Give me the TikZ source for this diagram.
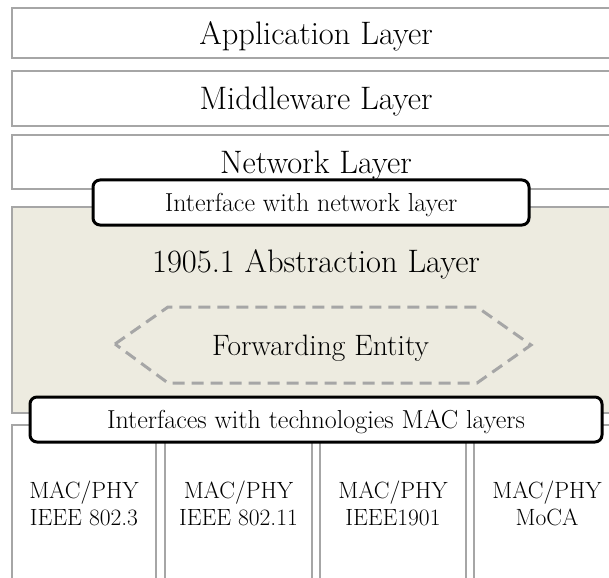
\documentclass[tikz,border=0pt]{standalone}
\usepackage{tikz}
\definecolor{layergray}{HTML}{A6A6A6}
\definecolor{absfill}{HTML}{EDEBE0}
\tikzset{
  layerbox/.style={draw=layergray, line width=2.7pt, fill=white, rectangle, inner sep=0pt},
  ifacebox/.style={draw=black, line width=3pt, fill=white, rounded corners=7pt, inner sep=0pt},
  bigtext/.style={font=\fontsize{32.5}{38}\selectfont, text depth=0pt},
  midtext/.style={font=\fontsize{26}{31}\selectfont, text depth=0pt},
  fetext/.style={font=\fontsize{29.5}{35}\selectfont, inner sep=0pt, text depth=0pt},
  coltext/.style={font=\fontsize{23.5}{27}\selectfont, align=center},
  hexline/.style={draw=layergray, line width=3pt, dash pattern=on 12pt off 7pt},
}
\begin{document}
\begin{tikzpicture}[x=1pt,y=-1pt]
\useasboundingbox (0,0) rectangle (609,577);

% upper protocol layers
\node[layerbox, bigtext, minimum width=608pt, minimum height=50pt] (app) at (316,33) {Application Layer};
\node[layerbox, bigtext, minimum width=608pt, minimum height=55pt] (mw) at (316,98.5) {Middleware Layer};
\node[layerbox, bigtext, minimum width=608pt, minimum height=54pt] (net) at (316,162) {Network Layer};

% abstraction layer
\node[layerbox, fill=absfill, minimum width=608pt, minimum height=206pt] (abs) at (316,310) {};
\node[bigtext, inner sep=0pt] (abstitle) at (316,261) {1905.1 Abstraction Layer};

% forwarding entity
\node[fetext] (fe) at (320.5,345) {Forwarding Entity};
\coordinate (h1) at (115,344);
\coordinate (h2) at (168,307);
\coordinate (h3) at (477,307);
\coordinate (h4) at (531,345);
\coordinate (h5) at (477,383);
\coordinate (h6) at (168,383);
\draw[hexline] (h1) -- (h2) -- (h3) -- (h4) -- (h5) -- (h6) -- cycle;

% MAC/PHY technologies
\node[layerbox, coltext, minimum width=144pt, minimum height=156pt] (c1) at (84,503) {MAC/PHY\\IEEE 802.3};
\node[layerbox, coltext, minimum width=147pt, minimum height=156pt] (c2) at (238.5,503) {MAC/PHY\\IEEE 802.11};
\node[layerbox, coltext, minimum width=146pt, minimum height=156pt] (c3) at (393,503) {MAC/PHY\\IEEE1901};
\node[layerbox, coltext, minimum width=146pt, minimum height=156pt] (c4) at (547,503) {MAC/PHY\\MoCA};

% interfaces
\node[ifacebox, midtext, minimum width=436pt, minimum height=45pt] (ifnet) at (311,202.5) {Interface with network layer};
\node[ifacebox, midtext, minimum width=572pt, minimum height=45pt] (ifmac) at (316,419.5) {Interfaces with technologies MAC layers};
\end{tikzpicture}
\end{document}
